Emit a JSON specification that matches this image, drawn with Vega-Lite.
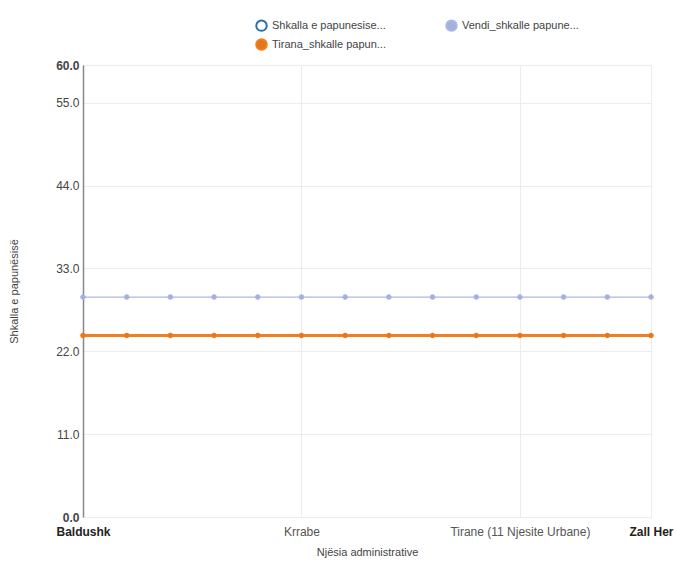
{
  "$schema": "https://vega.github.io/schema/vega-lite/v6.json",
  "autosize": "none",
  "width": 568,
  "height": 452,
  "padding": {"left": 83, "top": 65, "right": 26, "bottom": 46},
  "background": "white",
  "config": {
    "font": "Liberation Sans",
    "view": {"stroke": null},
    "axis": {"labelFont": "Liberation Sans", "titleFont": "Liberation Sans", "labelColor": "#444", "titleColor": "#444", "titleFontWeight": "normal", "gridColor": "#ececec"},
    "legend": {
      "title": null, "orient": "none", "legendX": 172, "legendY": -46,
      "direction": "horizontal", "columns": 2, "columnPadding": 56, "rowPadding": 0,
      "labelFontSize": 11, "labelColor": "#444", "symbolType": "circle", "symbolSize": 110, "symbolStrokeWidth": 2
    }
  },
  "data": {"values": [
    {"unit": "Baldushk", "series": "Vendi_shkalle papunesie", "value": 29.2},
    {"unit": "Berzhite", "series": "Vendi_shkalle papunesie", "value": 29.2},
    {"unit": "Dajt", "series": "Vendi_shkalle papunesie", "value": 29.2},
    {"unit": "Farke", "series": "Vendi_shkalle papunesie", "value": 29.2},
    {"unit": "Kashar", "series": "Vendi_shkalle papunesie", "value": 29.2},
    {"unit": "Krrabe", "series": "Vendi_shkalle papunesie", "value": 29.2},
    {"unit": "Ndroq", "series": "Vendi_shkalle papunesie", "value": 29.2},
    {"unit": "Petrele", "series": "Vendi_shkalle papunesie", "value": 29.2},
    {"unit": "Peze", "series": "Vendi_shkalle papunesie", "value": 29.2},
    {"unit": "Shengjergj", "series": "Vendi_shkalle papunesie", "value": 29.2},
    {"unit": "Tirane (11 Njesite Urbane)", "series": "Vendi_shkalle papunesie", "value": 29.2},
    {"unit": "Vaqarr", "series": "Vendi_shkalle papunesie", "value": 29.2},
    {"unit": "Zall Bastar", "series": "Vendi_shkalle papunesie", "value": 29.2},
    {"unit": "Zall Her", "series": "Vendi_shkalle papunesie", "value": 29.2},
    {"unit": "Baldushk", "series": "Tirana_shkalle papunesie", "value": 24.1},
    {"unit": "Berzhite", "series": "Tirana_shkalle papunesie", "value": 24.1},
    {"unit": "Dajt", "series": "Tirana_shkalle papunesie", "value": 24.1},
    {"unit": "Farke", "series": "Tirana_shkalle papunesie", "value": 24.1},
    {"unit": "Kashar", "series": "Tirana_shkalle papunesie", "value": 24.1},
    {"unit": "Krrabe", "series": "Tirana_shkalle papunesie", "value": 24.1},
    {"unit": "Ndroq", "series": "Tirana_shkalle papunesie", "value": 24.1},
    {"unit": "Petrele", "series": "Tirana_shkalle papunesie", "value": 24.1},
    {"unit": "Peze", "series": "Tirana_shkalle papunesie", "value": 24.1},
    {"unit": "Shengjergj", "series": "Tirana_shkalle papunesie", "value": 24.1},
    {"unit": "Tirane (11 Njesite Urbane)", "series": "Tirana_shkalle papunesie", "value": 24.1},
    {"unit": "Vaqarr", "series": "Tirana_shkalle papunesie", "value": 24.1},
    {"unit": "Zall Bastar", "series": "Tirana_shkalle papunesie", "value": 24.1},
    {"unit": "Zall Her", "series": "Tirana_shkalle papunesie", "value": 24.1}
  ]},
  "encoding": {
    "x": {
      "field": "unit", "type": "nominal", "sort": null,
      "scale": {"type": "point", "padding": 0},
      "axis": {
        "title": "Njësia administrative", "titleFontSize": 11, "titlePadding": 9,
        "values": ["Baldushk", "Krrabe", "Tirane (11 Njesite Urbane)", "Zall Her"],
        "labelAngle": 0, "labelFontSize": 12, "labelOverlap": false, "labelBound": false, "labelFlush": false,
        "labelFontWeight": {"condition": {"test": "datum.value === 'Baldushk' || datum.value === 'Zall Her'", "value": "bold"}, "value": "normal"},
        "labelColor": {"condition": {"test": "datum.value === 'Baldushk' || datum.value === 'Zall Her'", "value": "#222"}, "value": "#555"},
        "domain": false, "ticks": false, "labelPadding": 9, "grid": true
      }
    },
    "y": {
      "field": "value", "type": "quantitative",
      "scale": {"domain": [0, 60], "nice": false, "zero": true},
      "axis": {
        "title": "Shkalla e papunësisë", "titleFontSize": 11, "titlePadding": 36,
        "values": [0, 11, 22, 33, 44, 55, 60], "format": ".1f",
        "labelFontSize": 12, "ticks": false, "labelPadding": 4,
        "labelFontWeight": {"condition": {"test": "datum.value === 0 || datum.value === 60", "value": "bold"}, "value": "normal"},
        "domainColor": "#888", "domainWidth": 1.5, "grid": true
      }
    }
  },
  "layer": [
    {
      "mark": {"type": "line"},
      "encoding": {
        "stroke": {
          "field": "series", "type": "nominal",
          "scale": {"domain": ["Shkalla e papunesise (%)", "Vendi_shkalle papunesie", "Tirana_shkalle papunesie"], "range": ["#2a6ca8", "#a9b7e6", "#f07f1f"]},
          "legend": {"labelExpr": "slice(datum.label, 0, 20) + '...'"}
        },
        "strokeWidth": {"field": "series", "type": "nominal", "scale": {"domain": ["Vendi_shkalle papunesie", "Tirana_shkalle papunesie"], "range": [1.2, 3]}, "legend": null}
      }
    },
    {
      "mark": {"type": "point", "filled": true, "size": 22, "opacity": 1, "strokeWidth": 1},
      "encoding": {
        "stroke": {
          "field": "series", "type": "nominal",
          "legend": {"labelExpr": "slice(datum.label, 0, 20) + '...'"}
        },
        "fill": {
          "field": "series", "type": "nominal",
          "scale": {"domain": ["Shkalla e papunesise (%)", "Vendi_shkalle papunesie", "Tirana_shkalle papunesie"], "range": ["#ffffff", "#a3b0dc", "#e47620"]},
          "legend": {"labelExpr": "slice(datum.label, 0, 20) + '...'"}
        }
      }
    }
  ]
}
